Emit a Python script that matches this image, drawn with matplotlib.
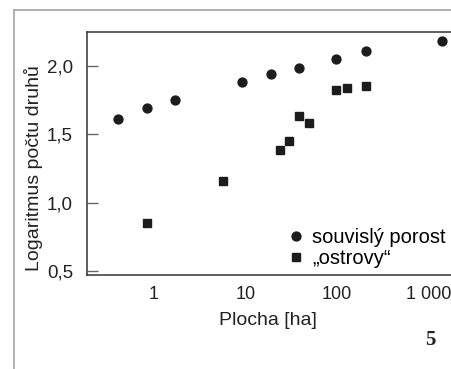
import matplotlib
matplotlib.use("Agg")
import matplotlib.pyplot as plt
from matplotlib.lines import Line2D
from matplotlib.ticker import FixedLocator, FuncFormatter

plt.rcParams["font.family"] = ["Liberation Sans", "DejaVu Sans"]

# souvislý porost (circles)
cont_area = [0.40, 0.84, 1.70, 9.1, 19, 38, 97, 209, 1400]
cont_logs = [1.61, 1.69, 1.75, 1.88, 1.94, 1.98, 2.05, 2.11, 2.18]

# "ostrovy" (squares)
isl_area = [0.84, 5.7, 24, 30, 38.7, 49, 97, 128, 207]
isl_logs = [0.85, 1.16, 1.385, 1.45, 1.635, 1.585, 1.82, 1.84, 1.85]

x_ticks = [1, 10, 100, 1000]
x_labels = ["1", "10", "100", "1 000"]
y_ticks = [0.5, 1.0, 1.5, 2.0]

ink = "#1c1c1c"

fig = plt.figure(figsize=(4.51, 3.69), dpi=100)
# axes run past the right edge, the original is cropped there
ax = fig.add_axes([87 / 451, 1 - 275.3 / 369, (462 - 87) / 451, (275.3 - 32) / 369])

ax.plot(cont_area, cont_logs, "o", color=ink, markersize=6.4, label="souvislý porost")
ax.plot(isl_area, isl_logs, "s", color=ink, markersize=5.6, label="„ostrovy“")

ax.set_xscale("log")
ax.set_xlim(10 ** ((87 - 154) / 91.5), 10 ** ((462 - 154) / 91.5))
ax.set_ylim(0.47, 2.246)

ax.xaxis.set_major_locator(FixedLocator(x_ticks))
ax.xaxis.set_minor_locator(FixedLocator([]))
ax.set_xticklabels(x_labels)
ax.set_yticks(y_ticks)
ax.yaxis.set_major_formatter(FuncFormatter(lambda v, p: f"{v:.1f}".replace(".", ",")))

ax.tick_params(axis="x", length=0, pad=8, labelsize=13, labelcolor="#222")
ax.tick_params(axis="y", direction="in", length=8, width=1, color="#666",
               pad=10, labelsize=13.5, labelcolor="#222")

for side in ["left", "bottom", "top", "right"]:
    ax.spines[side].set_color("#333")
    ax.spines[side].set_linewidth(1.1)

ax.set_xlabel("Plocha [ha]", fontsize=14, color="#222")
ax.set_ylabel("Logaritmus počtu druhů", fontsize=14, color="#222")
ax.xaxis.set_label_coords(0.483, -0.15)
ax.yaxis.set_label_coords(-0.116, 0.44)

ax.legend(loc="upper left", bbox_to_anchor=(289 / 451, 1 - 228 / 369),
          bbox_transform=fig.transFigure, frameon=False, fontsize=14.5,
          handlelength=0.7, handletextpad=0.45, labelspacing=0.12,
          borderpad=0, borderaxespad=0)

# grey page frame
fig.add_artist(Line2D([14 / 451, 14 / 451], [0, 1 - 10 / 369], color="#aaaaaa",
                      linewidth=1.3, transform=fig.transFigure))
fig.add_artist(Line2D([14 / 451, 1], [1 - 10 / 369, 1 - 10 / 369], color="#aaaaaa",
                      linewidth=1.3, transform=fig.transFigure))

fig.text(430 / 451, 1 - 340 / 369, "5", fontsize=15, fontweight="bold",
         family="Liberation Serif", ha="center", va="center", color="#222")

fig.savefig("out.png", dpi=100)
plt.close(fig)
